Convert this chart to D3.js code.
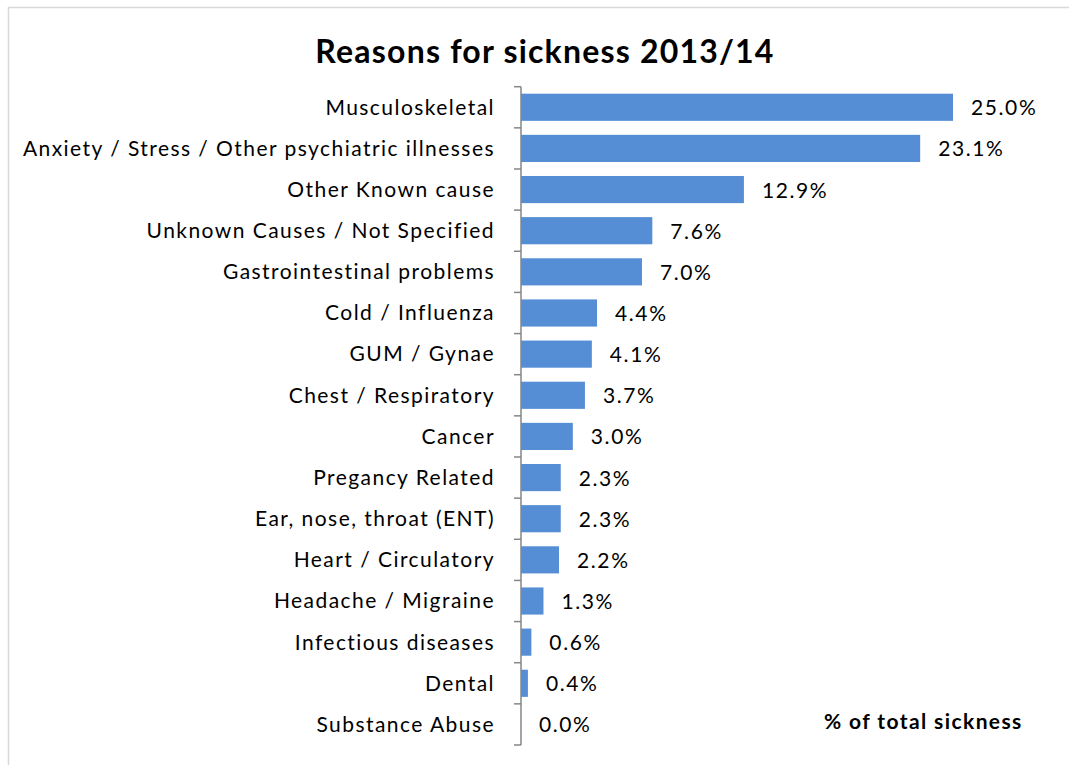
<!DOCTYPE html>
<html><head><meta charset="utf-8">
<script src="https://cdn.jsdelivr.net/npm/d3@7"></script>
<style>
body{margin:0;background:#fff;}
svg{display:block;font-family:Lato,"Open Sans",sans-serif;}
</style></head>
<body>
<svg id="c" width="1069" height="765"></svg>
<script>
const categories = ["Musculoskeletal","Anxiety / Stress / Other psychiatric illnesses","Other Known cause","Unknown Causes / Not Specified","Gastrointestinal problems","Cold / Influenza","GUM / Gynae","Chest / Respiratory","Cancer","Pregancy Related","Ear, nose, throat (ENT)","Heart / Circulatory","Headache / Migraine","Infectious diseases","Dental","Substance Abuse"];
const values = [25.0,23.1,12.9,7.6,7.0,4.4,4.1,3.7,3.0,2.3,2.3,2.2,1.3,0.6,0.4,0.0];
const valueLabels = ["25.0%","23.1%","12.9%","7.6%","7.0%","4.4%","4.1%","3.7%","3.0%","2.3%","2.3%","2.2%","1.3%","0.6%","0.4%","0.0%"];
const title = "Reasons for sickness 2013/14";
const axisTitle = "% of total sickness";

const svg = d3.select("#c");
svg.append("rect").attr("x",8.5).attr("y",7.5).attr("width",1080).attr("height",780)
  .attr("fill","#fff").attr("stroke","#d9d9d9").attr("stroke-width",1.5);

const x0 = 521;
const x = d3.scaleLinear().domain([0,25]).range([x0, 953]);
const y = d3.scaleBand().domain(categories).range([86.7, 745]).paddingInner(0.34).paddingOuter(0.17);

svg.append("text").attr("x",545).attr("y",63).attr("text-anchor","middle")
  .attr("font-size",32).attr("font-weight","bold").attr("letter-spacing",1.2)
  .attr("fill","#000").text(title);

svg.selectAll("rect.bar").data(values).enter().append("rect").attr("class","bar")
  .attr("x",x0).attr("y",(d,i)=>y(categories[i]))
  .attr("width",d=>x(d)-x0).attr("height",y.bandwidth())
  .attr("fill","#558ed5");

const axis = d3.axisLeft(y).tickSize(0).tickPadding(26).tickSizeOuter(0);
const g = svg.append("g").attr("transform",`translate(${x0},0)`).call(axis);
g.select(".domain").remove();
g.selectAll("text").attr("font-size",21).attr("fill","#000").attr("letter-spacing",1.45)
  .attr("font-family","Lato,'Open Sans',sans-serif").attr("dy","0.35em");
g.selectAll(".tick line").remove();
svg.append("line").attr("x1",x0).attr("x2",x0).attr("y1",86.7).attr("y2",745)
  .attr("stroke","#868686").attr("stroke-width",1.5);
const step = y.step();
const bounds = d3.range(categories.length+1).map(i=>86.7+i*step);
svg.selectAll("line.tk").data(bounds).enter().append("line").attr("class","tk")
  .attr("x1",x0-7).attr("x2",x0).attr("y1",d=>d).attr("y2",d=>d)
  .attr("stroke","#868686").attr("stroke-width",1.5);

svg.selectAll("text.val").data(values).enter().append("text").attr("class","val")
  .attr("x",d=>x(d)+18).attr("y",(d,i)=>y(categories[i])+y.bandwidth()/2+8)
  .attr("font-size",21).attr("letter-spacing",1.6).attr("fill","#000").text((d,i)=>valueLabels[i]);

svg.append("text").attr("x",824).attr("y",729).attr("font-size",21).attr("font-weight","bold")
  .attr("letter-spacing",1.4).attr("fill","#000").text(axisTitle);
</script>
</body></html>
